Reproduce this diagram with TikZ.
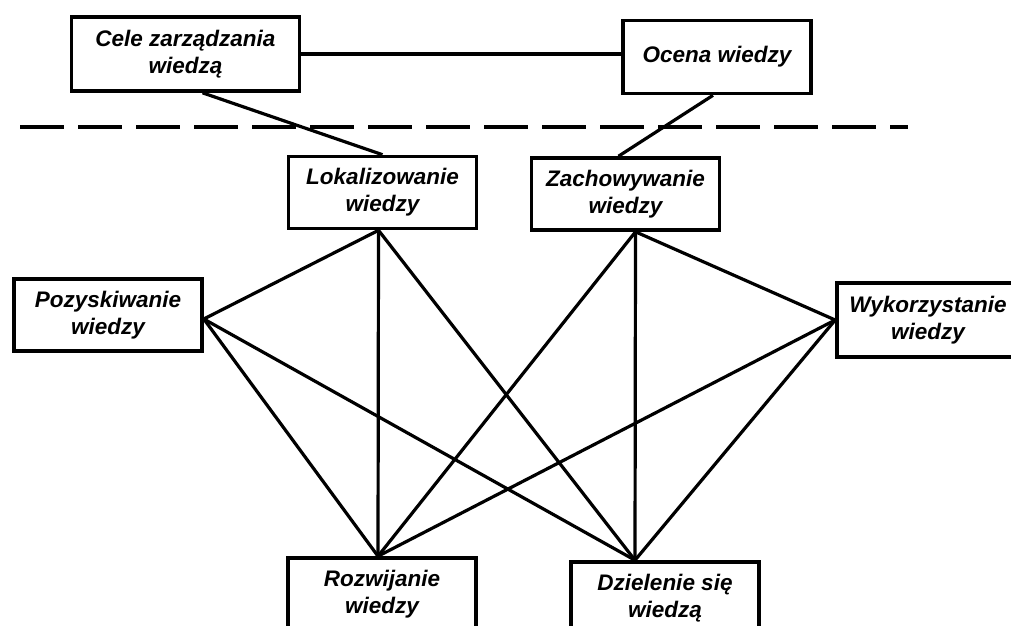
\documentclass[tikz,border=0pt]{standalone}
\usepackage{fontspec}
\setmainfont{Liberation Sans}
\usetikzlibrary{positioning}

\begin{document}
\begin{tikzpicture}[x=1pt, y=-1pt,
  box/.style={draw, rectangle, align=center, inner sep=0pt, line width=3.6pt,
    minimum width=188pt, minimum height=72pt,
    font=\fontsize{22.5}{27}\selectfont\bfseries\itshape},
  link/.style={line width=3.2pt},
  sep/.style={line width=3.4pt, dash pattern=on 44pt off 14pt}]
  \useasboundingbox (0,0) rectangle (1011,625);
  \clip (0,0) rectangle (1011,625);
  % upper level
  \node[box, minimum width=228pt, minimum height=74pt] (cele) at (185.5,54) {Cele zarządzania\\wiedzą};
  \node[box, minimum height=73pt] (ocena) at (717,57) {Ocena wiedzy};
  \coordinate (sepL) at (20,127);
  \coordinate (sepR) at (908,127);
  \draw[sep] (sepL) -- (sepR);
  % processes
  \node[box] (lok) at (382.5,192.5) {Lokalizowanie\\wiedzy};
  \node[box] (zach) at (625.5,194) {Zachowywanie\\wiedzy};
  \node[box] (poz) at (108,315) {Pozyskiwanie\\wiedzy};
  \node[box, minimum width=182pt, minimum height=74pt] (wyk) at (928,320) {Wykorzystanie\\wiedzy};
  \node[box] (rozw) at (382,594) {Rozwijanie\\wiedzy};
  \node[box] (dziel) at (665,598) {Dzielenie się\\wiedzą};
  % meeting points
  \coordinate (lokS) at ([xshift=-4pt]lok.south);
  \coordinate (zachS) at ([xshift=10pt]zach.south);
  \coordinate (pozE) at ([yshift=-4pt]poz.east);
  \coordinate (rozwN) at ([xshift=-4pt]rozw.north);
  \coordinate (dzielN) at ([xshift=-30pt]dziel.north);
  \draw[link] (cele.east) -- (cele.east -| ocena.west);
  \draw[link] ([xshift=17pt]cele.south) -- (lok.north);
  \draw[link] ([xshift=-4pt]ocena.south) -- ([xshift=-7pt]zach.north);
  \foreach \a/\b in {lokS/pozE, lokS/rozwN, lokS/dzielN,
                     zachS/rozwN, zachS/dzielN, zachS/wyk.west,
                     pozE/rozwN, pozE/dzielN, wyk.west/rozwN, wyk.west/dzielN}
    \draw[link] (\a) -- (\b);
\end{tikzpicture}
\end{document}
